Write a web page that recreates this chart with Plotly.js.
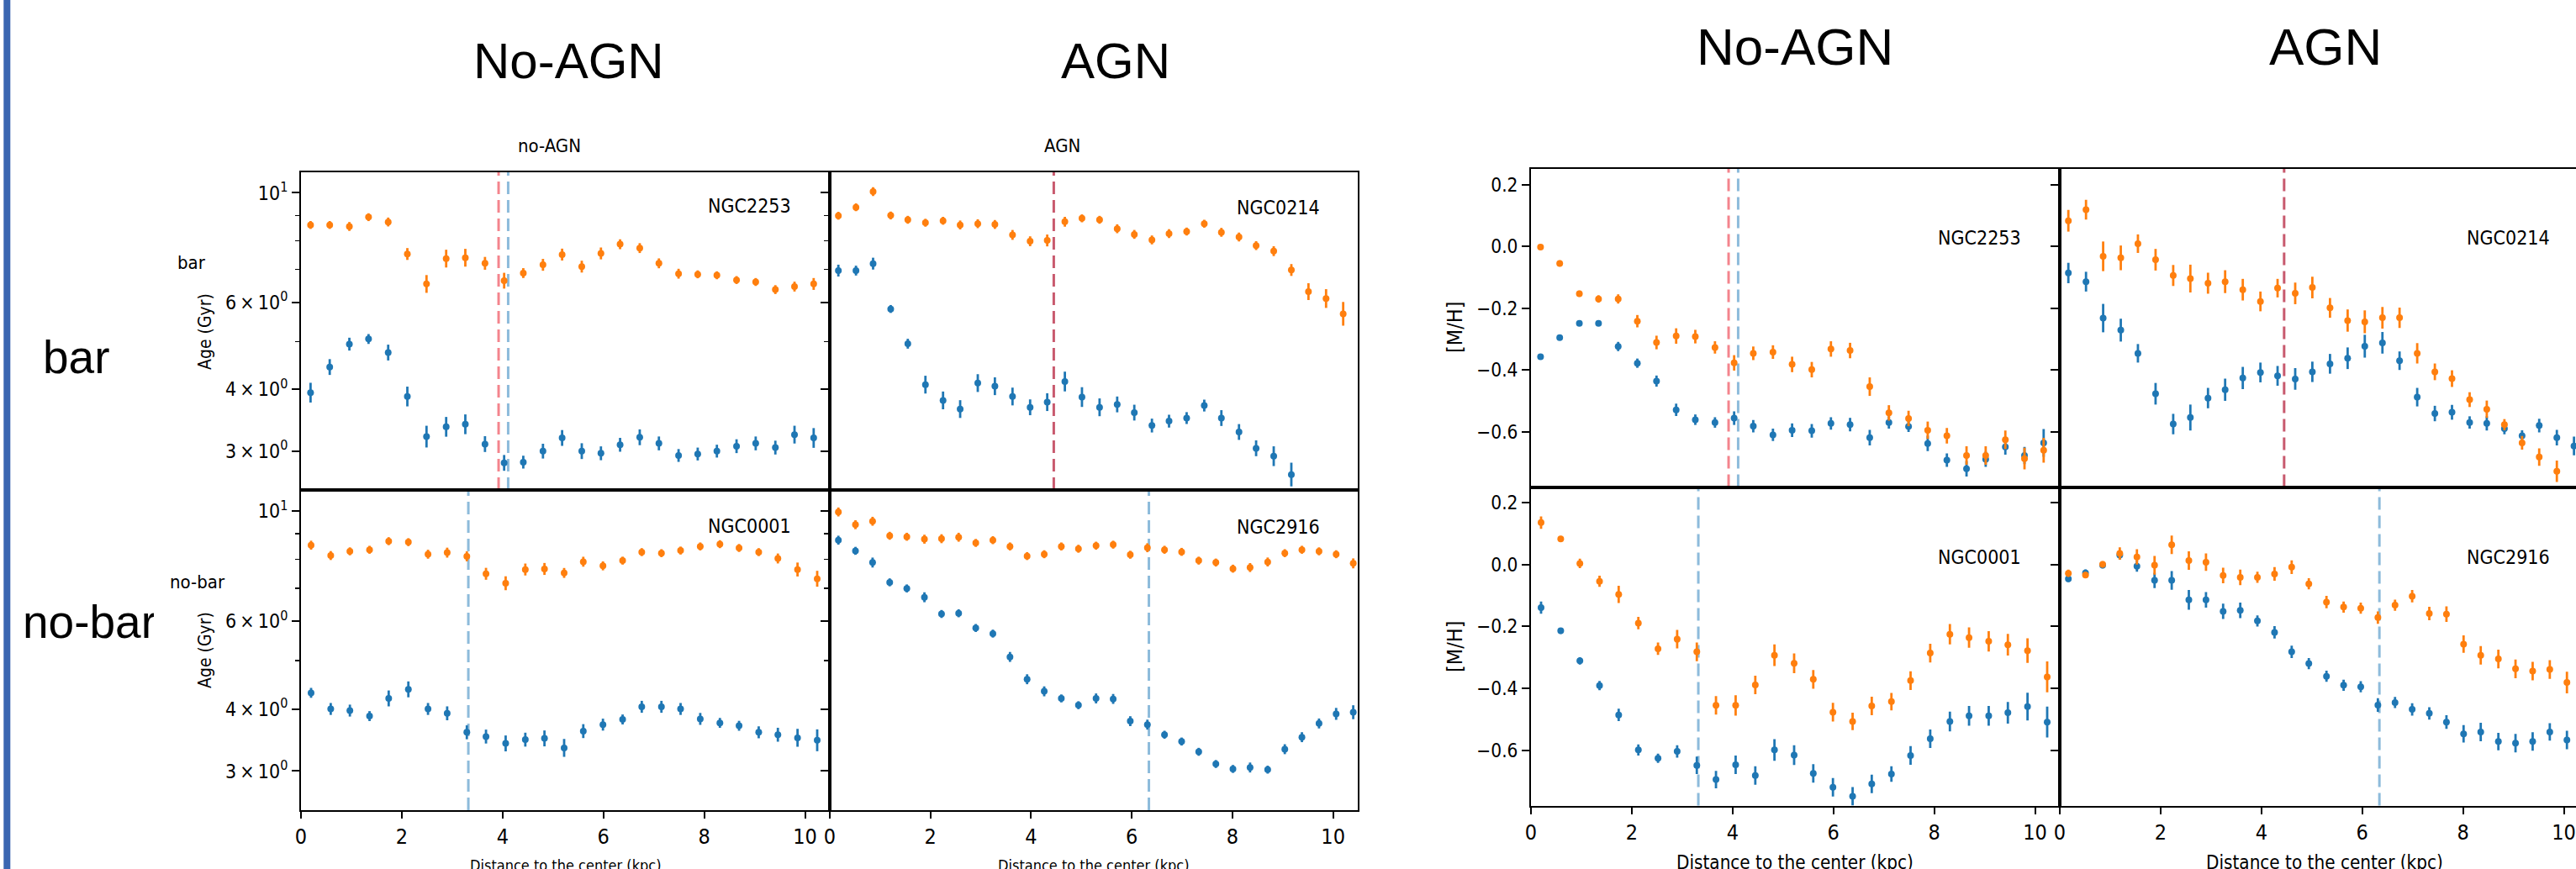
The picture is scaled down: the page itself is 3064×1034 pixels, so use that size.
<!DOCTYPE html>
<html><head><meta charset="utf-8">
<script src="https://cdn.plot.ly/plotly-3.0.1.min.js"></script>
<style>html,body{margin:0;padding:0;overflow:hidden;background:#fff}#plot{width:3080px;height:1034px}</style>
</head><body><div id="plot"></div><script>
// ---------------- DATA ----------------
const galaxies = ['NGC2253','NGC0214','NGC0001','NGC2916'];
const columnTitles = ['No-AGN','AGN'];
const rowTitles = ['bar','no-bar'];

// radial bins (kpc)
const r_NGC2253 = [0.19,0.57,0.96,1.34,1.73,2.11,2.49,2.88,3.26,3.65,4.03,4.41,4.80,5.18,5.57,5.95,6.33,6.72,7.10,7.49,7.87,8.25,8.64,9.02,9.41,9.79,10.17];
const r_NGC0214 = [0.17,0.52,0.86,1.21,1.55,1.90,2.25,2.59,2.94,3.28,3.63,3.98,4.32,4.67,5.01,5.36,5.71,6.05,6.40,6.74,7.09,7.44,7.78,8.13,8.47,8.82,9.17,9.51,9.86,10.20];
const r_NGC0001 = [0.20,0.59,0.97,1.36,1.74,2.13,2.52,2.90,3.29,3.67,4.06,4.45,4.83,5.22,5.60,5.99,6.38,6.76,7.15,7.53,7.92,8.31,8.69,9.08,9.46,9.85,10.24];
const r_NGC2916 = [0.17,0.51,0.85,1.19,1.53,1.88,2.22,2.56,2.90,3.24,3.58,3.92,4.26,4.60,4.94,5.29,5.63,5.97,6.31,6.65,6.99,7.33,7.67,8.01,8.35,8.70,9.04,9.38,9.72,10.06,10.40];

// Age (Gyr): C1 = orange series, C0 = blue series; errors in dex
const age_NGC2253_C1 = [8.61,8.61,8.55,8.93,8.73,7.52,6.54,7.36,7.39,7.20,6.64,6.88,7.15,7.50,7.09,7.54,7.87,7.73,7.20,6.86,6.84,6.81,6.66,6.60,6.37,6.46,6.54];
const age_NGC2253_C0 = [3.94,4.44,4.94,5.06,4.75,3.87,3.21,3.36,3.40,3.10,2.84,2.85,3.00,3.19,3.00,2.97,3.09,3.20,3.11,2.94,2.96,3.00,3.07,3.11,3.05,3.24,3.19];
const ageErr_NGC2253_C1 = [.008,.008,.009,.008,.009,.012,.018,.018,.018,.013,.016,.010,.012,.012,.012,.012,.010,.010,.010,.010,.008,.008,.008,.008,.009,.010,.012];
const ageErr_NGC2253_C0 = [.020,.016,.013,.010,.016,.020,.022,.020,.020,.016,.016,.013,.015,.016,.016,.014,.014,.016,.014,.013,.013,.013,.014,.014,.014,.018,.020];

const age_NGC0214_C1 = [8.99,9.35,10.06,9.00,8.82,8.70,8.78,8.61,8.66,8.63,8.22,7.98,8.01,8.74,8.88,8.82,8.46,8.24,8.03,8.27,8.35,8.66,8.32,8.14,7.82,7.62,6.98,6.31,6.11,5.69];
const age_NGC0214_C0 = [6.96,6.96,7.19,5.82,4.95,4.09,3.80,3.65,4.12,4.06,3.87,3.68,3.77,4.15,3.86,3.68,3.73,3.59,3.38,3.45,3.50,3.71,3.50,3.28,3.04,2.93,2.69];
const ageErr_NGC0214_C1 = [.008,.008,.009,.008,.008,.008,.008,.009,.009,.009,.010,.010,.012,.010,.008,.008,.009,.009,.009,.009,.008,.008,.009,.009,.009,.010,.012,.017,.019,.024];
const ageErr_NGC0214_C0 = [.012,.010,.012,.008,.010,.018,.018,.018,.018,.018,.018,.016,.018,.020,.020,.018,.016,.016,.014,.013,.012,.012,.016,.016,.016,.020,.024];

const age_NGC0001_C1 = [8.54,8.14,8.30,8.36,8.70,8.66,8.19,8.25,8.11,7.48,7.16,7.63,7.65,7.51,7.91,7.76,7.95,8.27,8.23,8.33,8.49,8.58,8.43,8.27,8.03,7.63,7.31];
const age_NGC0001_C0 = [4.31,4.00,3.97,3.87,4.20,4.38,4.00,3.92,3.59,3.52,3.41,3.47,3.49,3.34,3.61,3.72,3.81,4.04,4.04,4.00,3.82,3.75,3.70,3.59,3.55,3.50,3.46];
const ageErr_NGC0001_C1 = [.009,.009,.008,.008,.008,.008,.009,.010,.010,.012,.014,.012,.012,.010,.010,.009,.008,.008,.008,.008,.008,.008,.008,.008,.010,.014,.016];
const ageErr_NGC0001_C0 = [.010,.012,.012,.010,.016,.016,.012,.014,.014,.014,.016,.014,.016,.018,.014,.012,.010,.012,.012,.012,.012,.010,.010,.012,.014,.018,.022];

const age_NGC2916_C1 = [9.96,9.39,9.54,8.92,8.88,8.78,8.80,8.86,8.63,8.74,8.49,8.12,8.19,8.49,8.40,8.52,8.56,8.17,8.44,8.36,8.28,7.95,7.88,7.66,7.70,7.90,8.23,8.36,8.30,8.19,7.85];
const age_NGC2916_C0 = [8.74,8.32,7.88,7.19,6.99,6.71,6.21,6.23,5.82,5.67,5.09,4.59,4.34,4.20,4.07,4.20,4.19,3.78,3.72,3.55,3.44,3.28,3.10,3.03,3.05,3.02,3.32,3.51,3.74,3.91,3.94];
const ageErr_NGC2916_C1 = [.009,.009,.009,.008,.008,.009,.009,.009,.008,.008,.008,.008,.008,.008,.008,.008,.008,.008,.009,.008,.008,.008,.008,.008,.009,.009,.008,.008,.008,.008,.010];
const ageErr_NGC2916_C0 = [.009,.008,.010,.008,.008,.010,.008,.008,.008,.008,.010,.010,.010,.008,.008,.010,.010,.010,.010,.008,.008,.008,.008,.008,.010,.008,.010,.010,.010,.012,.014];

// [M/H]
const mh_NGC2253_C1 = [-0.002,-0.055,-0.153,-0.170,-0.170,-0.242,-0.311,-0.290,-0.292,-0.327,-0.377,-0.346,-0.342,-0.382,-0.399,-0.332,-0.337,-0.454,-0.539,-0.557,-0.595,-0.613,-0.677,-0.677,-0.626,-0.687,-0.660];
const mh_NGC2253_C0 = [-0.357,-0.295,-0.249,-0.249,-0.324,-0.378,-0.436,-0.529,-0.561,-0.570,-0.556,-0.582,-0.610,-0.595,-0.597,-0.573,-0.577,-0.619,-0.570,-0.583,-0.638,-0.692,-0.720,-0.689,-0.649,-0.677,-0.636];
const mhErr_NGC2253_C1 = [.008,.010,.010,.012,.015,.020,.022,.025,.022,.020,.025,.022,.022,.025,.025,.025,.025,.030,.025,.025,.028,.025,.030,.030,.030,.035,.040];
const mhErr_NGC2253_C0 = [.008,.008,.008,.008,.015,.015,.018,.020,.017,.017,.022,.020,.020,.022,.022,.020,.022,.025,.020,.018,.025,.022,.025,.025,.025,.028,.045];

const mh_NGC0214_C1 = [0.083,0.119,-0.032,-0.037,0.009,-0.043,-0.094,-0.104,-0.119,-0.114,-0.140,-0.178,-0.135,-0.152,-0.133,-0.199,-0.240,-0.244,-0.231,-0.231,-0.346,-0.406,-0.428,-0.496,-0.527,-0.577,-0.636,-0.682,-0.728];
const mh_NGC0214_C0 = [-0.086,-0.114,-0.232,-0.271,-0.346,-0.477,-0.575,-0.554,-0.491,-0.464,-0.426,-0.408,-0.419,-0.429,-0.406,-0.380,-0.362,-0.323,-0.312,-0.370,-0.488,-0.541,-0.537,-0.570,-0.573,-0.590,-0.613,-0.580,-0.619,-0.646];
const mhErr_NGC0214_C1 = [.035,.032,.048,.040,.030,.035,.034,.045,.034,.037,.035,.032,.030,.035,.035,.032,.036,.037,.035,.033,.033,.027,.027,.024,.028,.018,.022,.028,.035];
const mhErr_NGC0214_C0 = [.033,.032,.046,.037,.030,.035,.033,.042,.033,.036,.036,.032,.032,.035,.033,.032,.035,.037,.035,.030,.030,.025,.024,.020,.023,.018,.018,.022,.025,.030];

const mh_NGC0001_C1 = [0.136,0.083,0.004,-0.054,-0.096,-0.189,-0.272,-0.241,-0.282,-0.455,-0.455,-0.389,-0.293,-0.319,-0.371,-0.477,-0.507,-0.457,-0.443,-0.375,-0.286,-0.225,-0.236,-0.248,-0.259,-0.278,-0.363];
const mh_NGC0001_C0 = [-0.139,-0.214,-0.311,-0.391,-0.486,-0.599,-0.626,-0.604,-0.649,-0.695,-0.647,-0.682,-0.599,-0.616,-0.675,-0.720,-0.749,-0.709,-0.677,-0.617,-0.563,-0.507,-0.489,-0.489,-0.479,-0.459,-0.509];
const mhErr_NGC0001_C1 = [.020,.010,.015,.018,.028,.020,.020,.030,.030,.030,.033,.030,.035,.032,.030,.030,.028,.030,.028,.030,.030,.033,.033,.033,.035,.040,.050];
const mhErr_NGC0001_C0 = [.020,.010,.012,.015,.020,.018,.015,.020,.028,.028,.030,.030,.035,.032,.030,.030,.030,.030,.025,.030,.030,.032,.032,.032,.035,.045,.050];

const mh_NGC2916_C1 = [-0.028,-0.034,0.001,0.036,0.025,-0.002,0.064,0.013,0.008,-0.035,-0.041,-0.041,-0.030,-0.008,-0.062,-0.121,-0.137,-0.141,-0.171,-0.131,-0.102,-0.158,-0.160,-0.257,-0.293,-0.305,-0.337,-0.344,-0.339,-0.381];
const mh_NGC2916_C0 = [-0.046,-0.027,-0.002,0.031,-0.005,-0.051,-0.051,-0.114,-0.114,-0.151,-0.148,-0.182,-0.219,-0.282,-0.320,-0.361,-0.390,-0.395,-0.454,-0.446,-0.468,-0.481,-0.509,-0.547,-0.541,-0.572,-0.577,-0.572,-0.541,-0.567];
const mhErr_NGC2916_C1 = [.012,.010,.010,.020,.025,.030,.030,.030,.028,.025,.025,.018,.022,.022,.018,.020,.018,.018,.020,.018,.020,.022,.025,.028,.030,.030,.030,.030,.030,.035];
const mhErr_NGC2916_C0 = [.010,.012,.010,.015,.018,.025,.030,.032,.025,.025,.025,.018,.020,.020,.018,.018,.018,.018,.022,.018,.020,.020,.022,.028,.030,.028,.030,.030,.028,.030];

// vertical dashed reference radii (kpc)
const vline_gal  = ['NGC2253','NGC2253','NGC0214','NGC0001','NGC2916'];
const vline_r    = [3.92, 4.11, 4.45, 3.32, 6.34];
const vline_kind = ['red','blue','mixed','blue','blue'];

// tick labels
const ageTickVals = [3,4,6,10];
const ageTickText = ['3\u2009\u00d7\u200910<sup>0</sup>','4\u2009\u00d7\u200910<sup>0</sup>','6\u2009\u00d7\u200910<sup>0</sup>','10<sup>1</sup>'];
const ageMinorVals = [5,7,8,9];
const mhTickVals = [-0.6,-0.4,-0.2,0,0.2];
const mhTickText = ['\u22120.6','\u22120.4','\u22120.2','0.0','0.2'];
const xTickVals = [0,2,4,6,8,10];

// ---------------- STYLE ----------------
const W = 3080, H = 1034;
const C0 = '#1f77b4', C1 = '#ff7f0e';
const vlineColor = {red:'#f4848d', blue:'#8dbbdb', mixed:'#c85a6e'};
const MPL = 'DejaVu Sans Condensed, DejaVu Sans, sans-serif';
const ARIAL = 'Liberation Sans, Arial, sans-serif';

const px = v => v / W;
const dX = (a,b) => [a/W, b/W];
const dY = (top,bottom) => [1-bottom/H, 1-top/H];

// panel layout: [galaxy index] -> axis ids
// Age figure: x/y (NGC2253), x2/y2 (NGC0214), x3/y3 (NGC0001), x4/y4 (NGC2916)
// M/H figure: x5..x8 same order
const R = {NGC2253:r_NGC2253, NGC0214:r_NGC0214, NGC0001:r_NGC0001, NGC2916:r_NGC2916};
const AGE = {
  NGC2253:[age_NGC2253_C0, ageErr_NGC2253_C0, age_NGC2253_C1, ageErr_NGC2253_C1],
  NGC0214:[age_NGC0214_C0, ageErr_NGC0214_C0, age_NGC0214_C1, ageErr_NGC0214_C1],
  NGC0001:[age_NGC0001_C0, ageErr_NGC0001_C0, age_NGC0001_C1, ageErr_NGC0001_C1],
  NGC2916:[age_NGC2916_C0, ageErr_NGC2916_C0, age_NGC2916_C1, ageErr_NGC2916_C1]
};
const MH = {
  NGC2253:[mh_NGC2253_C0, mhErr_NGC2253_C0, mh_NGC2253_C1, mhErr_NGC2253_C1],
  NGC0214:[mh_NGC0214_C0, mhErr_NGC0214_C0, mh_NGC0214_C1, mhErr_NGC0214_C1],
  NGC0001:[mh_NGC0001_C0, mhErr_NGC0001_C0, mh_NGC0001_C1, mhErr_NGC0001_C1],
  NGC2916:[mh_NGC2916_C0, mhErr_NGC2916_C0, mh_NGC2916_C1, mhErr_NGC2916_C1]
};

function ageTrace(r, v, dex, color, xa, ya) {
  return {type:'scatter', mode:'markers', x:r.slice(0, v.length), y:v, xaxis:xa, yaxis:ya,
    marker:{color:color, size:8}, hoverinfo:'skip', showlegend:false,
    error_y:{type:'data', symmetric:false,
      array:v.map((y,i)=>y*(Math.pow(10,dex[i])-1)),
      arrayminus:v.map((y,i)=>y*(1-Math.pow(10,-dex[i]))),
      color:color, thickness:2.8, width:0}};
}
function mhTrace(r, v, err, color, xa, ya) {
  return {type:'scatter', mode:'markers', x:r.slice(0, v.length), y:v, xaxis:xa, yaxis:ya,
    marker:{color:color, size:8}, hoverinfo:'skip', showlegend:false,
    error_y:{type:'data', array:err, color:color, thickness:2.8, width:0}};
}

const traces = [];
galaxies.forEach((g, k) => {
  const xa = k === 0 ? 'x' : 'x' + (k+1), ya = k === 0 ? 'y' : 'y' + (k+1);
  const a = AGE[g];
  traces.push(ageTrace(R[g], a[0], a[1], C0, xa, ya));
  traces.push(ageTrace(R[g], a[2], a[3], C1, xa, ya));
  const m = MH[g];
  traces.push(mhTrace(R[g], m[0], m[1], C0, 'x' + (k+5), 'y' + (k+5)));
  traces.push(mhTrace(R[g], m[2], m[3], C1, 'x' + (k+5), 'y' + (k+5)));
});

// axes geometry (pixels)
const ageX = [[358,987],[987,1615],[358,987],[987,1615]];
const ageY = [[204.5,583],[204.5,583],[583,964],[583,964]];
const mhX  = [[1821,2450],[2450,3079],[1821,2450],[2450,3079]];
const mhY  = [[201,579.5],[201,579.5],[579.5,958.5],[579.5,958.5]];

const layout = {
  width: W, height: H, margin:{l:0,r:0,t:0,b:0},
  paper_bgcolor:'#fff', plot_bgcolor:'#fff', showlegend:false,
  font:{family:MPL, color:'#000'},
  shapes:[], annotations:[]
};

function xAxis(dom, bottom, anchor) {
  const ax = {domain:dom, anchor:anchor, range:[0,10.49], showline:true, mirror:true,
    linecolor:'#000', linewidth:2, showgrid:false, zeroline:false, fixedrange:true};
  if (bottom) Object.assign(ax, {ticks:'outside', ticklen:8, tickwidth:2, tickcolor:'#000',
    tickmode:'array', tickvals:xTickVals, ticktext:xTickVals.map(String), tickfont:{size:25, family:MPL}});
  else Object.assign(ax, {ticks:'', showticklabels:false});
  return ax;
}
function yAge(dom, left, anchor) {
  return {domain:dom, anchor:anchor, type:'log', range:[0.3985,1.0425], showline:true, mirror:true,
    linecolor:'#000', linewidth:2, showgrid:false, zeroline:false, fixedrange:true,
    ticks:'outside', ticklen:9, tickwidth:2, tickcolor:'#000', tickmode:'array',
    tickvals:ageTickVals, ticktext:ageTickText, showticklabels:left, tickfont:{size:23, family:MPL},
    minor:{tickmode:'array', tickvals:ageMinorVals, ticks:'outside', ticklen:5, tickwidth:1.5, tickcolor:'#000', showgrid:false}};
}
function yMh(dom, left, anchor) {
  return {domain:dom, anchor:anchor, range:[-0.779,0.251], showline:true, mirror:true,
    linecolor:'#000', linewidth:2, showgrid:false, zeroline:false, fixedrange:true,
    ticks:'outside', ticklen:9, tickwidth:2, tickcolor:'#000', tickmode:'array',
    tickvals:mhTickVals, ticktext:mhTickText, showticklabels:left, tickfont:{size:22.5, family:MPL}};
}

for (let k = 0; k < 4; k++) {
  const xs = k === 0 ? '' : String(k+1), ys = xs;
  layout['xaxis' + xs] = xAxis(dX(...ageX[k]), k >= 2, 'y' + ys);
  layout['yaxis' + ys] = yAge(dY(...ageY[k]), k % 2 === 0, 'x' + xs);
  const j = String(k+5);
  layout['xaxis' + j] = xAxis(dX(...mhX[k]), k >= 2, 'y' + j);
  layout['yaxis' + j] = yMh(dY(...mhY[k]), k % 2 === 0, 'x' + j);
}

// dashed vertical lines in both figures
vline_gal.forEach((g, i) => {
  const k = galaxies.indexOf(g);
  const idsAge = k === 0 ? ['x','y'] : ['x'+(k+1), 'y'+(k+1)];
  const idsMh = ['x'+(k+5), 'y'+(k+5)];
  [idsAge, idsMh].forEach(ids => {
    layout.shapes.push({type:'line', xref:ids[0], yref:ids[1] + ' domain', x0:vline_r[i], x1:vline_r[i], y0:0, y1:1,
      line:{color:vlineColor[vline_kind[i]], width:3, dash:'15px,7px'}, layer:'below'});
  });
});

// blue slide bar at far left
layout.shapes.push({type:'rect', xref:'paper', yref:'paper', x0:px(4.3), x1:px(12.3), y0:0, y1:1,
  fillcolor:'#3a66b1', line:{width:0}, layer:'above'});

function ann(text, x, y, size, family, extra) {
  layout.annotations.push(Object.assign({text:text, x:px(x), y:1-y/H, xref:'paper', yref:'paper',
    xanchor:'center', yanchor:'middle', showarrow:false, font:{size:size, family:family, color:'#000'}}, extra||{}));
}

// big column / row titles
ann(columnTitles[0], 676, 73, 60, ARIAL);
ann(columnTitles[1], 1327, 73, 60, ARIAL);
ann(columnTitles[0], 2135, 55, 62, ARIAL);
ann(columnTitles[1], 2766, 55, 62, ARIAL);
ann(rowTitles[0], 91, 425, 55, ARIAL);
ann(rowTitles[1], 25.5, 740, 55, ARIAL, {xanchor:'left', align:'left', width:156, borderpad:0});

// small matplotlib texts in age figure
ann('no-AGN', 653, 174, 22, MPL);
ann('AGN', 1263, 173, 22, MPL);
ann('bar', 228, 312, 22, MPL);
ann('no-bar', 234.5, 692, 22, MPL);

// galaxy names
ann('NGC2253', 891, 245, 23, MPL);
ann('NGC0214', 1520, 247, 23, MPL);
ann('NGC0001', 891, 626, 23, MPL);
ann('NGC2916', 1520, 627, 23, MPL);
ann('NGC2253', 2354, 283, 23, MPL);
ann('NGC0214', 2983, 283, 23, MPL);
ann('NGC0001', 2354, 663, 23, MPL);
ann('NGC2916', 2983, 663, 23, MPL);

// axis titles
ann('Age (Gyr)', 244, 395, 21, MPL, {textangle:-90});
ann('Age (Gyr)', 244, 774, 21, MPL, {textangle:-90});
ann('[M/H]', 1730, 390, 25, MPL, {textangle:-90});
ann('[M/H]', 1730, 770, 25, MPL, {textangle:-90});
ann('Distance to the center (kpc)', 672.5, 1029, 18, MPL);
ann('Distance to the center (kpc)', 1301, 1029, 18, MPL);
ann('Distance to the center (kpc)', 2135, 1026, 22.3, MPL);
ann('Distance to the center (kpc)', 2765, 1026, 22.3, MPL);

Plotly.newPlot('plot', traces, layout, {staticPlot:true, displayModeBar:false});
</script></body></html>
